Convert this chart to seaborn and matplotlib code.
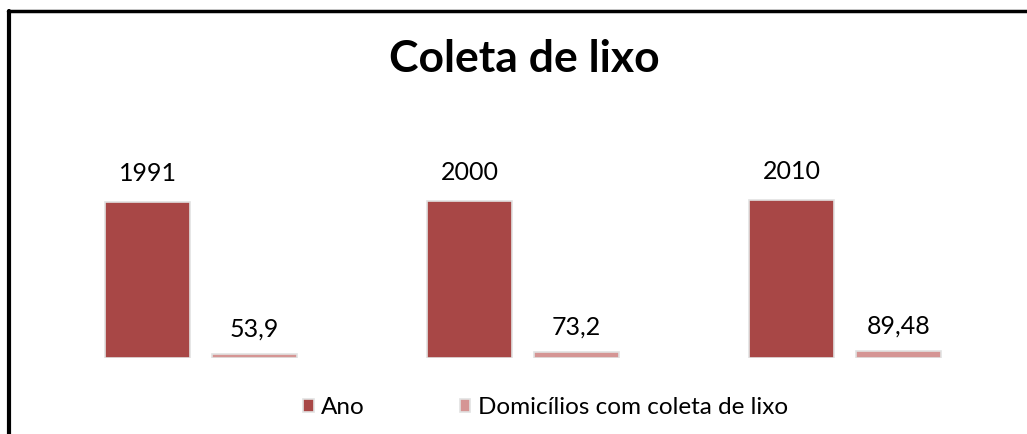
import pandas as pd
import matplotlib.pyplot as plt
import seaborn as sns

# data
groups = ["1", "2", "3"]
ano = [1991, 2000, 2010]
domicilios = [53.9, 73.2, 89.48]
series = ["Ano", "Domicílios com coleta de lixo"]
colors = ["#A84746", "#D59594"]

df = pd.DataFrame({
    "grupo": groups * 2,
    "serie": [series[0]] * 3 + [series[1]] * 3,
    "valor": ano + domicilios,
})

sns.set_style("white")
plt.rcParams["font.family"] = ["Lato", "DejaVu Sans"]
plt.rcParams["text.color"] = "black"

fig = plt.figure(figsize=(10.27, 4.34), dpi=100)
ax = fig.add_axes([40 / 1027, 76 / 434, 966 / 1027, 196 / 434])

sns.barplot(
    data=df,
    x="grupo",
    y="valor",
    hue="serie",
    palette=colors,
    saturation=1,
    width=0.665,
    gap=0.2,
    edgecolor="#e2e2e2",
    linewidth=1.2,
    ax=ax,
)
ax.set_ylim(0, 2500)
ax.set_xlim(-0.5, 2.5)

# labels with comma decimals
for cont, vals, pad in zip(ax.containers, [ano, domicilios], [12.5, 9.5]):
    labs = [str(v).replace(".", ",") for v in vals]
    ax.bar_label(cont, labels=labs, padding=pad, fontsize=18, color="black")

ax.set_axis_off()

fig.text(0.511, 0.865, "Coleta de lixo", ha="center", va="center",
         fontsize=32, fontweight="bold", color="black")

handles, labels = ax.get_legend_handles_labels()
ax.legend_.remove()
leg = fig.legend(handles, labels, loc="center", bbox_to_anchor=(0.531, 0.06),
                 ncol=2, frameon=False, fontsize=17.5, handlelength=0.45,
                 handleheight=0.45, handletextpad=0.3, columnspacing=3.9)
for t in leg.get_texts():
    t.set_color("black")

# border like the original frame (left and top)
fig.add_artist(plt.Line2D([9 / 1027, 9 / 1027], [0, 1 - 10.5 / 434],
                          color="black", lw=3, transform=fig.transFigure))
fig.add_artist(plt.Line2D([7.5 / 1027, 1], [1 - 10.5 / 434, 1 - 10.5 / 434],
                          color="black", lw=2.5, transform=fig.transFigure))

plt.savefig("out.png", dpi=100)
